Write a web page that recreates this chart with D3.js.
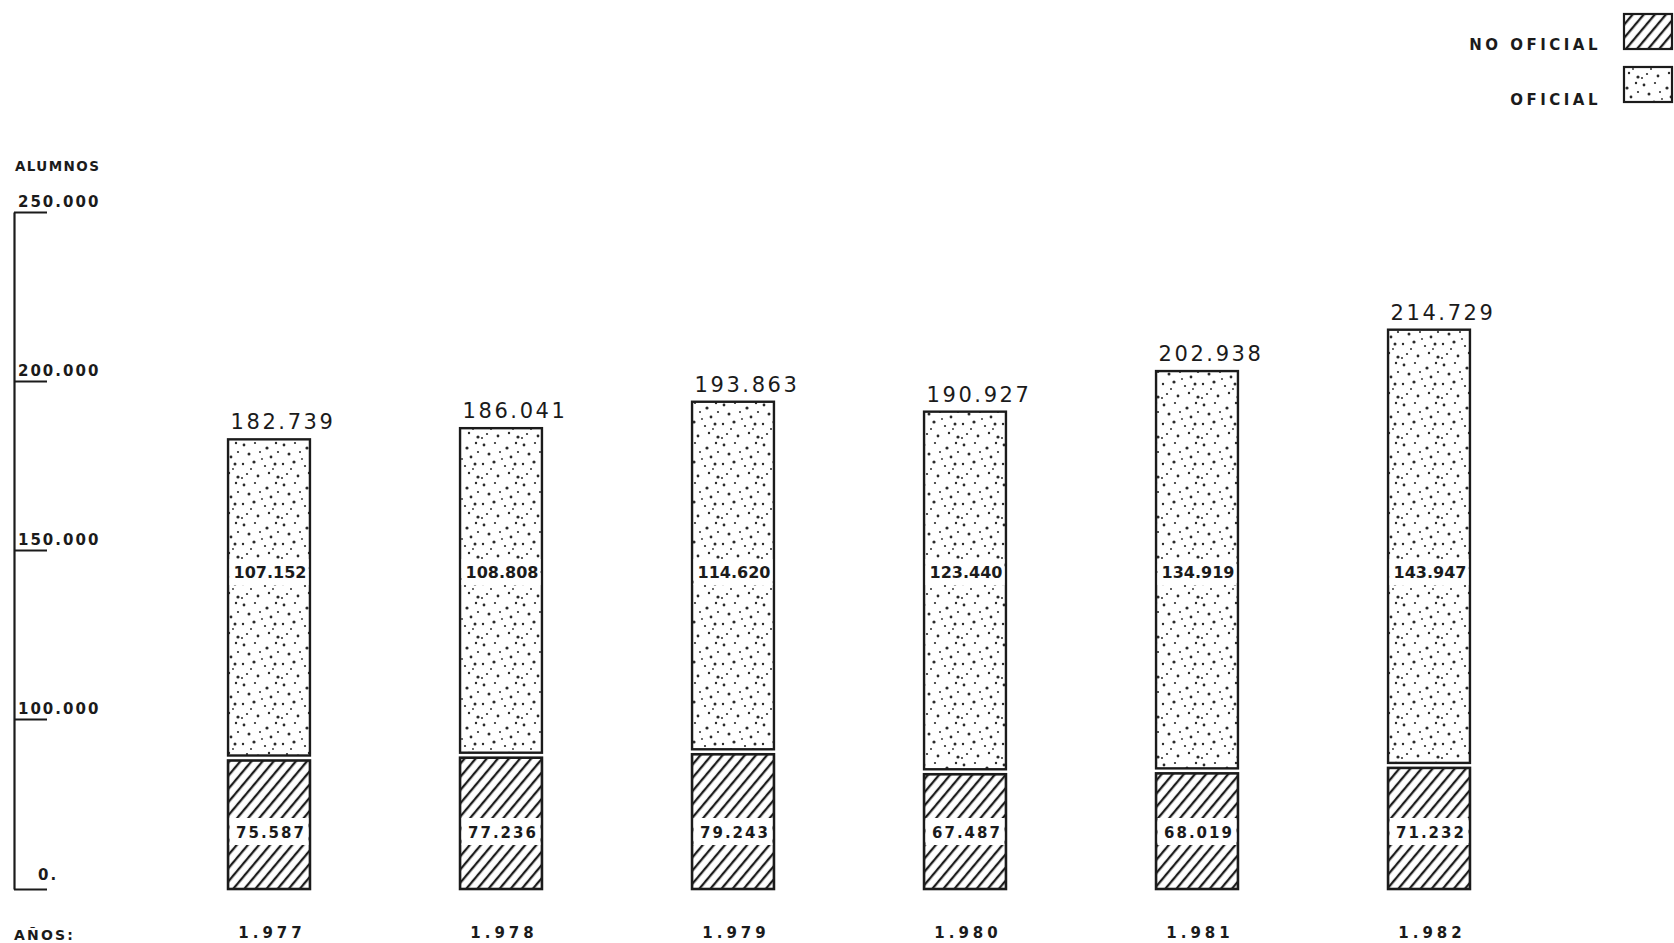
<!DOCTYPE html>
<html>
<head>
<meta charset="utf-8">
<script src="https://cdn.jsdelivr.net/npm/d3@7/dist/d3.min.js"></script>
<style>
  html, body { margin: 0; padding: 0; background: #ffffff; }
  svg { display: block; }
</style>
</head>
<body>
<script>
// ---- data ----
const years = ["1.977", "1.978", "1.979", "1.980", "1.981", "1.982"];
const noOficial = [75587, 77236, 79243, 67487, 68019, 71232];
const oficial = [107152, 108808, 114620, 123440, 134919, 143947];
const totals = [182739, 186041, 193863, 190927, 202938, 214729];
const tickValues = [0, 100000, 150000, 200000, 250000];
const tickLabels = ["0.", "100.000", "150.000", "200.000", "250.000"];
const seriesNames = ["NO OFICIAL", "OFICIAL"];

const W = 1674, H = 943;
const ink = "#1b1b1b";
const boldFont = "'DejaVu Sans', 'Liberation Sans', sans-serif";
const fmt = v => d3.format(",")(v).replace(/,/g, ".");

const svg = d3.select("body").append("svg").attr("width", W).attr("height", H);
svg.append("rect").attr("width", W).attr("height", H).attr("fill", "#ffffff");

// ---- patterns ----
const defs = svg.append("defs");
const hatch = defs.append("pattern").attr("id", "hatch")
  .attr("patternUnits", "userSpaceOnUse").attr("width", 8.5).attr("height", 8.5)
  .attr("patternTransform", "rotate(40)");
hatch.append("rect").attr("width", 8.5).attr("height", 8.5).attr("fill", "#fff");
hatch.append("line").attr("x1", 2).attr("y1", 0).attr("x2", 2).attr("y2", 8.5)
  .attr("stroke", ink).attr("stroke-width", 2.3);

const dotTile = [[4,5,1.4],[15,3,1.1],[27,8,1.6],[36,3,1.2],[9,14,1.5],[20,12,1.0],
  [31,17,1.4],[38,12,1.1],[3,24,1.2],[14,22,1.6],[25,26,1.1],[35,24,1.5],
  [7,34,1.1],[18,36,1.4],[29,33,1.2],[38,37,1.6],[22,19,0.9],[11,29,1.0],
  [33,29,0.9],[2,38,1.0]];
const dots = defs.append("pattern").attr("id", "dots")
  .attr("patternUnits", "userSpaceOnUse").attr("width", 40).attr("height", 40);
dots.append("rect").attr("width", 40).attr("height", 40).attr("fill", "#fff");
dots.selectAll("circle").data(dotTile).join("circle")
  .attr("cx", d => d[0]).attr("cy", d => d[1]).attr("r", d => d[2])
  .attr("fill", "#2a2a2a");

// ---- scales ----
const y = d3.scaleLinear().domain([0, 100000, 250000]).range([889, 719, 212]);
const x = d3.scaleBand().domain(years).range([153, 1545])
  .paddingInner(0.647).paddingOuter(0.3235);

// ---- axis ----
const axisG = svg.append("g").attr("transform", "translate(14,0)")
  .call(d3.axisRight(y).tickValues(tickValues).tickSize(33).tickSizeOuter(0)
    .tickFormat((d, i) => tickLabels[i]));
axisG.select(".domain").attr("stroke", ink).attr("stroke-width", 2.2);
axisG.selectAll(".tick line").attr("stroke", ink).attr("stroke-width", 2);
axisG.selectAll(".tick text")
  .attr("x", d => d === 0 ? 24 : 4)
  .attr("y", d => d === 0 ? -10 : -6)
  .attr("dy", 0)
  .attr("text-anchor", "start")
  .attr("fill", ink)
  .style("font-family", boldFont)
  .style("font-weight", "bold")
  .style("font-size", "15px")
  .style("letter-spacing", "2px");

svg.append("text").attr("x", 15).attr("y", 171).text("ALUMNOS")
  .attr("fill", ink).style("font-family", boldFont)
  .style("font-weight", "bold").style("font-size", "13.5px").style("letter-spacing", "1.4px");

svg.append("text").attr("x", 14).attr("y", 940).text("AÑOS:")
  .attr("fill", ink).style("font-family", boldFont)
  .style("font-weight", "bold").style("font-size", "14px").style("letter-spacing", "2.2px");

// ---- bars ----
const bw = x.bandwidth();
const barG = svg.append("g");
const rows = years.map((yr, i) => ({ yr, no: noOficial[i], of: oficial[i], tot: totals[i] }));

const grp = barG.selectAll("g.bar").data(rows).join("g").attr("class", "bar");

// NO OFICIAL (hatched) segment
grp.append("rect")
  .attr("x", d => x(d.yr)).attr("width", bw)
  .attr("y", d => y(d.no)).attr("height", d => y(0) - y(d.no))
  .attr("fill", "url(#hatch)").attr("stroke", ink).attr("stroke-width", 2.6);

// OFICIAL (dotted) segment, stacked on top with a small gap
grp.append("rect")
  .attr("x", d => x(d.yr)).attr("width", bw)
  .attr("y", d => y(d.no + d.of)).attr("height", d => (y(d.no) - 5) - y(d.no + d.of))
  .attr("fill", "url(#dots)").attr("stroke", ink).attr("stroke-width", 2.4);

// label backgrounds
grp.append("rect")
  .attr("x", d => x(d.yr) + 1.5).attr("width", bw - 3)
  .attr("y", 559).attr("height", 26).attr("fill", "#fff");
grp.append("rect")
  .attr("x", d => x(d.yr) + 1.5).attr("width", bw - 3)
  .attr("y", 818).attr("height", 27).attr("fill", "#fff");

// inner labels
grp.append("text")
  .attr("x", d => x(d.yr) + bw / 2 + 1).attr("y", 578)
  .attr("text-anchor", "middle").text(d => fmt(d.of))
  .attr("fill", ink).style("font-family", boldFont)
  .style("font-weight", "bold").style("font-size", "16px").style("letter-spacing", "0px");
grp.append("text")
  .attr("x", d => x(d.yr) + bw / 2 + 2).attr("y", 838)
  .attr("text-anchor", "middle").text(d => fmt(d.no))
  .attr("fill", ink).style("font-family", boldFont)
  .style("font-weight", "bold").style("font-size", "15px").style("letter-spacing", "2px");

// totals above bars
grp.append("text")
  .attr("x", d => x(d.yr) + bw / 2 + 14).attr("y", d => y(d.no + d.of) - 10)
  .attr("text-anchor", "middle").text(d => fmt(d.tot))
  .attr("fill", ink).style("font-family", "'DejaVu Sans', sans-serif")
  .style("font-size", "21px").style("letter-spacing", "2.6px");

// year labels
grp.append("text")
  .attr("x", d => x(d.yr) + bw / 2 + 3).attr("y", 938)
  .attr("text-anchor", "middle").text(d => d.yr)
  .attr("fill", ink).style("font-family", boldFont)
  .style("font-weight", "bold").style("font-size", "15px").style("letter-spacing", "4px");

// ---- legend ----
const legend = [
  { name: seriesNames[0], fill: "url(#hatch)", ty: 50, ry: 14 },
  { name: seriesNames[1], fill: "url(#dots)", ty: 105, ry: 67 }
];
const lg = svg.append("g").selectAll("g").data(legend).join("g");
lg.append("text").attr("x", 1601).attr("y", d => d.ty).attr("text-anchor", "end")
  .text(d => d.name).attr("fill", ink)
  .style("font-family", boldFont)
  .style("font-weight", "bold").style("font-size", "15px").style("letter-spacing", "3.5px");
lg.append("rect").attr("x", 1624).attr("y", d => d.ry).attr("width", 48).attr("height", 35)
  .attr("fill", d => d.fill).attr("stroke", ink).attr("stroke-width", 2.2);
</script>
</body>
</html>
